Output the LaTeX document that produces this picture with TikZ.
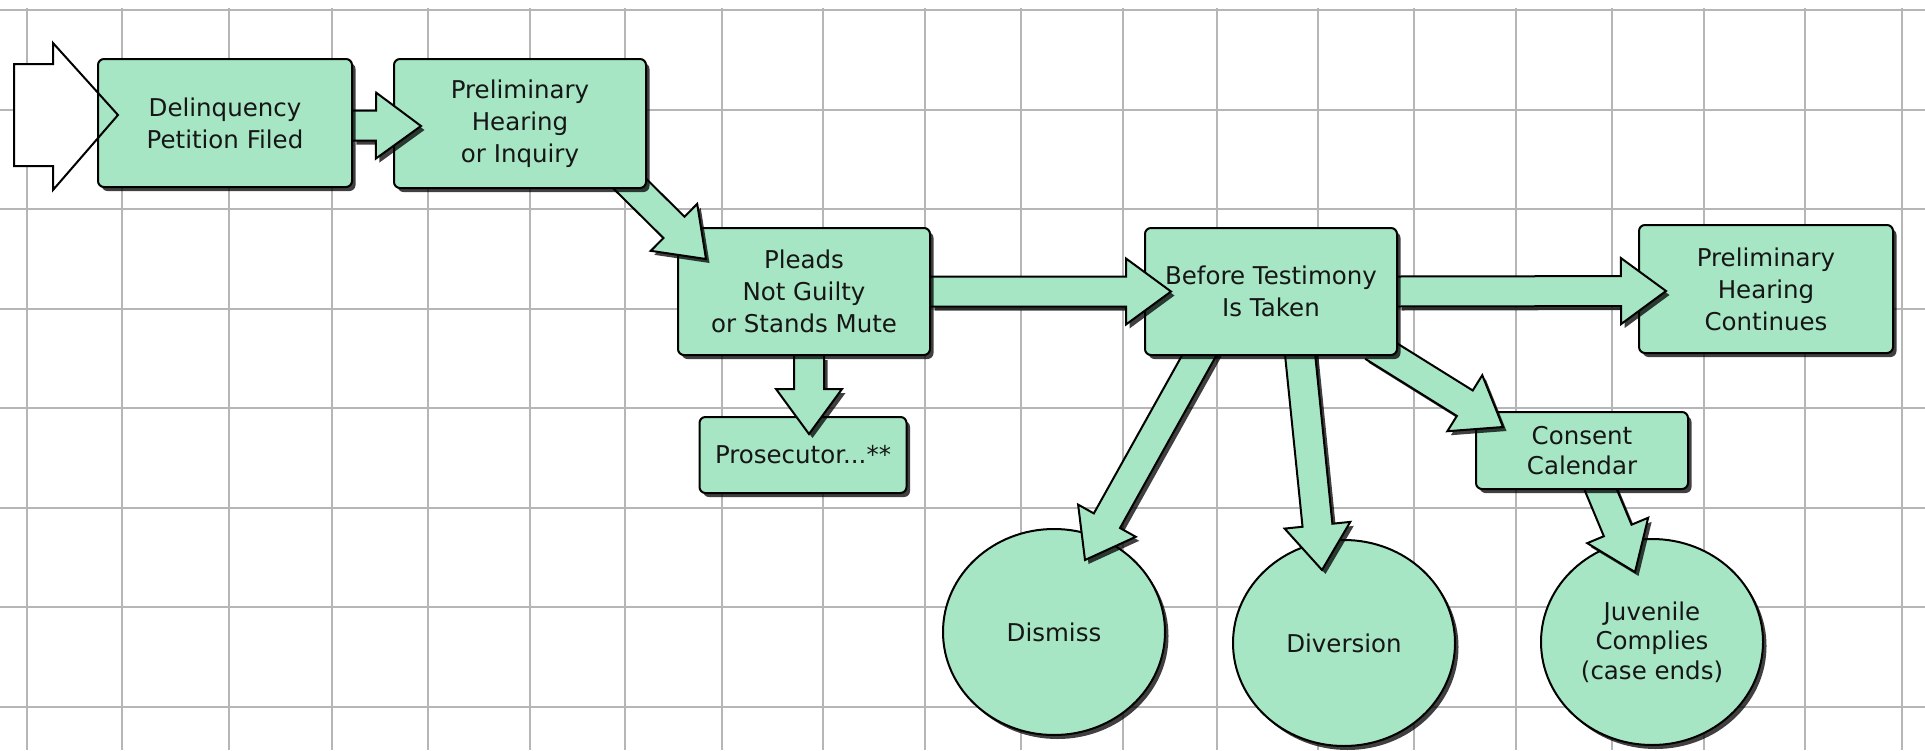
\documentclass[tikz,border=0pt]{standalone}
\usepackage{fontspec}
\setmainfont{DejaVu Sans}
\usetikzlibrary{calc,shapes.geometric,shadows}
\definecolor{boxgreen}{RGB}{166,230,196}
\definecolor{gridgray}{RGB}{182,182,182}
\definecolor{txt}{RGB}{22,22,22}
\pgfdeclarelayer{gridlayer}
\pgfdeclarelayer{l0}\pgfdeclarelayer{l1}\pgfdeclarelayer{l2}\pgfdeclarelayer{l3}
\pgfdeclarelayer{l4}\pgfdeclarelayer{l5}\pgfdeclarelayer{l6}\pgfdeclarelayer{l7}
\pgfdeclarelayer{l8}\pgfdeclarelayer{l9}\pgfdeclarelayer{l10}
\pgfsetlayers{gridlayer,l0,l1,l2,l3,l4,l5,l6,l7,l8,l9,l10,main}
\tikzset{
  shadowstyle/.style={drop shadow={shadow xshift=3.5pt,shadow yshift=-4pt,opacity=0.75,fill=black}},
  box/.style={draw=black,line width=2pt,fill=boxgreen,rounded corners=6pt,text=txt,align=center,
    font=\fontsize{24.5}{32}\selectfont,inner sep=0pt,shadowstyle},
  endcircle/.style={ellipse,draw=black,line width=2pt,fill=boxgreen,text=txt,align=center,
    font=\fontsize{24.5}{29.5}\selectfont,inner sep=0pt,minimum width=222pt,minimum height=206pt,shadowstyle},
  arrowfill/.style={fill=boxgreen,shadowstyle},
  arrowline/.style={draw=black,line width=2pt,line join=miter},
  gridline/.style={draw=gridgray,line width=2pt},
  whitearrow/.style={draw=black,line width=2pt,line join=miter}
}
\newcommand{\fatarrow}[2]{%
  \coordinate (fah) at ($(#2)!45pt!(#1)$);
  \coordinate (fa1) at ($(#1)!15pt!90:(#2)$);
  \coordinate (fa2) at ($(#1)!15pt!-90:(#2)$);
  \coordinate (fb1) at ($(fah)!15pt!90:(#2)$);
  \coordinate (fb2) at ($(fah)!15pt!-90:(#2)$);
  \coordinate (fw1) at ($(fah)!33pt!90:(#2)$);
  \coordinate (fw2) at ($(fah)!33pt!-90:(#2)$);
  \fill[arrowfill] (fa1) -- (fb1) -- (fw1) -- (#2) -- (fw2) -- (fb2) -- (fa2) -- cycle;
  \draw[arrowline] (fa1) -- (fb1) -- (fw1) -- (#2) -- (fw2) -- (fb2) -- (fa2);
}
\begin{document}
\begin{tikzpicture}[x=1pt,y=-1pt]
\useasboundingbox (0,0) rectangle (1925,750);
% grid
\begin{pgfonlayer}{gridlayer}
  \fill[white] (0,0) rectangle (1925,750);
  \foreach \gx in {27,122,229,332,428,530,625,722,823,925,1021,1123,1217,1318,1414,1516,1612,1704,1805,1902}
    \draw[gridline] (\gx,8) -- (\gx,750);
  \foreach \gy in {10,109.5,209,308.5,408,507.5,607,706.5}
    \draw[gridline] (0,\gy) -- (1925,\gy);
\end{pgfonlayer}
% white entry arrow (fill behind the first box)
\coordinate (wa1) at (14,64);
\coordinate (wa2) at (53,64);
\coordinate (wa3) at (53,43);
\coordinate (wat) at (118,115);
\coordinate (wa4) at (53,190);
\coordinate (wa5) at (53,166);
\coordinate (wa6) at (14,166);
\begin{pgfonlayer}{l0}
  \fill[white] (wa1) -- (wa2) -- (wa3) -- (wat) -- (wa4) -- (wa5) -- (wa6) -- cycle;
\end{pgfonlayer}
% nodes
\begin{pgfonlayer}{l10}
  \node[box,minimum width=254pt,minimum height=128pt] (b1) at (225,123) {Delinquency\\Petition Filed};
\end{pgfonlayer}
\begin{pgfonlayer}{l8}
  \node[box,minimum width=252pt,minimum height=129pt] (b2) at (520,123.5) {Preliminary\\Hearing\\or Inquiry};
\end{pgfonlayer}
\begin{pgfonlayer}{l6}
  \node[box,minimum width=252pt,minimum height=127pt] (b3) at (804,291.5) {Pleads\\Not Guilty\\or Stands Mute};
\end{pgfonlayer}
\begin{pgfonlayer}{l4}
  \node[box,minimum width=252pt,minimum height=127pt] (b5) at (1271,291.5) {Before Testimony\\Is Taken};
\end{pgfonlayer}
\begin{pgfonlayer}{l2}
  \node[box,minimum width=212pt,minimum height=77pt,font=\fontsize{24.5}{29.5}\selectfont] (cc) at (1582,450.5) {Consent\\Calendar};
\end{pgfonlayer}
\begin{pgfonlayer}{l0}
  \node[box,minimum width=207pt,minimum height=76pt] (pr) at (803,455) {Prosecutor...**};
  \node[box,minimum width=254pt,minimum height=128pt] (b6) at (1766,289) {Preliminary\\Hearing\\Continues};
  \node[endcircle] (dis) at (1054,632) {Dismiss};
  \node[endcircle] (div) at (1344,643) {Diversion};
  \node[endcircle] (juv) at (1652,642) {Juvenile\\Complies\\(case ends)};
\end{pgfonlayer}
% connector end points
\coordinate (a12s) at ($(b1.east)+(0,2.5)$);
\coordinate (a12t) at ($(b2.west)+(28,2.5)$);
\coordinate (a23s) at ($(b2.south east)+(-29,-17)$);
\coordinate (a23t) at ($(b3.north west)+(29,32)$);
\coordinate (a35s) at (b3.east);
\coordinate (a35t) at ($(b5.west)+(27,0)$);
\coordinate (a3ps) at ($(b3.south)+(5,0)$);
\coordinate (a3pt) at ($(pr.north)+(6,18)$);
\coordinate (a56s) at (b5.east);
\coordinate (a56t) at ($(b6.west)+(28,2)$);
\coordinate (a5cs) at ($(b5.south east)+(-25,-10)$);
\coordinate (a5ct) at ($(cc.north west)+(28,16)$);
\coordinate (a5ds) at ($(b5.south)+(-66,-11)$);
\coordinate (a5dt) at ($(dis.center)+(31,-72)$);
\coordinate (a5vs) at ($(b5.south)+(28,-12)$);
\coordinate (a5vt) at ($(div.center)+(-22,-73)$);
\coordinate (acjs) at ($(cc.south)+(13,-14)$);
\coordinate (acjt) at ($(juv.center)+(-17,-70)$);
% connectors
\begin{pgfonlayer}{l9}\fatarrow{a12s}{a12t}\end{pgfonlayer}
\begin{pgfonlayer}{l7}\fatarrow{a23s}{a23t}\end{pgfonlayer}
\begin{pgfonlayer}{l5}\fatarrow{a35s}{a35t}\fatarrow{a3ps}{a3pt}\end{pgfonlayer}
\begin{pgfonlayer}{l3}
  \fatarrow{a56s}{a56t}
  \fatarrow{a5cs}{a5ct}
  \fatarrow{a5ds}{a5dt}
  \fatarrow{a5vs}{a5vt}
\end{pgfonlayer}
\begin{pgfonlayer}{l1}\fatarrow{acjs}{acjt}\end{pgfonlayer}
% white arrow outline on top
\draw[whitearrow] (wa1) -- (wa2) -- (wa3) -- (wat) -- (wa4) -- (wa5) -- (wa6) -- cycle;
\end{tikzpicture}
\end{document}
